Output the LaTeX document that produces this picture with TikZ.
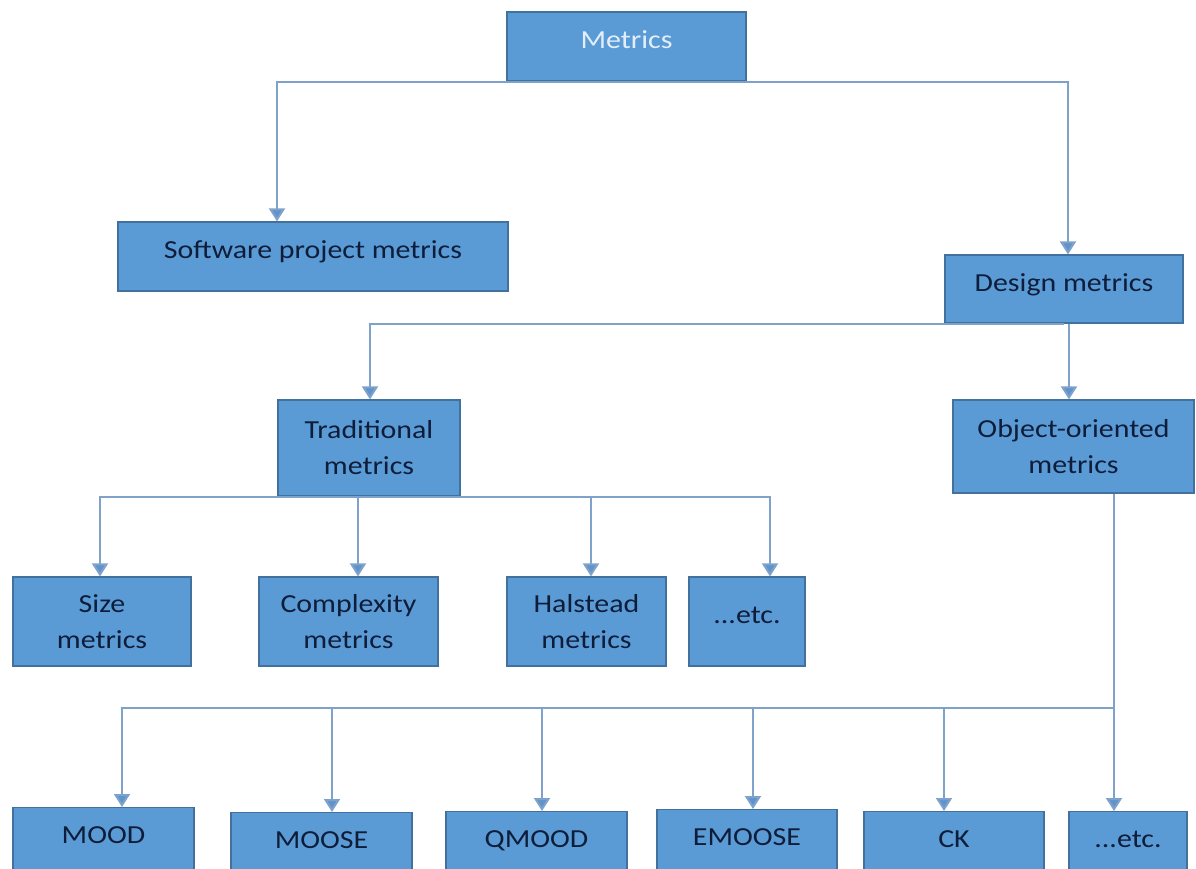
\documentclass[tikz,border=0pt]{standalone}
\usepackage{fontspec}
\setmainfont{Carlito}
\usetikzlibrary{arrows.meta}
\definecolor{boxfill}{HTML}{5B9BD5}
\definecolor{boxedge}{HTML}{41719C}
\definecolor{wire}{HTML}{7FA2CB}
\definecolor{tipfill}{HTML}{5F93CC}
\definecolor{ink}{HTML}{0E1D3A}
\definecolor{lightink}{HTML}{E2EEF9}
% slightly widened lettering
\newcommand{\hs}[1]{\scalebox{1.15}[1]{#1}}
\begin{document}
\begin{tikzpicture}[x=1pt,y=-1pt,
  box/.style={draw=boxedge, fill=boxfill, line width=1.2pt, text=ink,
    font=\fontsize{26}{36}\selectfont, align=center, inner sep=0pt},
  oneline/.style={text height=18pt, text depth=14pt},
  leaf/.style={box, anchor=north, text height=36pt, text depth=44pt},
  conn/.style={draw=wire, line width=2pt,
    -{Triangle[width=16pt,length=13pt,fill=tipfill]}}]
\useasboundingbox (0,0) rectangle (1196,868);

% top levels
\node[box, oneline, text=lightink, minimum width=239pt, minimum height=69pt] (metrics) at (626.5,46.5) {\hs{Metrics}};
\node[box, oneline, minimum width=390pt, minimum height=69pt] (soft) at (313,256.5) {\hs{Software project metrics}};
\node[box, oneline, minimum width=238pt, minimum height=68pt] (design) at (1064,289) {\hs{Design metrics}};
\node[box, minimum width=182pt, minimum height=96pt] (trad) at (369,448) {\hs{Traditional}\\\hs{metrics}};
\node[box, minimum width=241pt, minimum height=93pt] (oo) at (1073.5,446.5) {\hs{Object-oriented}\\\hs{metrics}};

% traditional metrics family
\node[box, minimum width=178pt, minimum height=89pt] (size) at (102,621.5) {\hs{Size}\\\hs{metrics}};
\node[box, minimum width=179pt, minimum height=89pt] (cplx) at (348.5,621.5) {\hs{Complexity}\\\hs{metrics}};
\node[box, minimum width=159pt, minimum height=89pt] (hal) at (586.5,621.5) {\hs{Halstead}\\\hs{metrics}};
\node[box, oneline, minimum width=116pt, minimum height=89pt] (etcA) at (747,621.5) {\hs{...etc.}};

% object-oriented metric suites
\node[leaf, minimum width=181pt] (mood) at (103.5,807) {\hs{MOOD}};
\node[leaf, minimum width=181pt] (moose) at (321.5,812) {\hs{MOOSE}};
\node[leaf, minimum width=181pt] (qmood) at (536.5,811) {\hs{QMOOD}};
\node[leaf, minimum width=180pt] (emoose) at (747,809) {\hs{EMOOSE}};
\node[leaf, minimum width=180pt] (ck) at (954,811) {\hs{CK}};
\node[leaf, minimum width=118pt] (etcB) at (1128,811) {\hs{...etc.}};

% connectors
\draw[conn] (metrics.south) -| ([xshift=-36pt]soft.north);
\draw[conn] (metrics.south) -| ([xshift=4pt]design.north);
\draw[conn] (design.south) -| ([xshift=1pt]trad.north);
\draw[conn] ([xshift=-4.5pt]oo.north |- design.south) -- ([xshift=-4.5pt]oo.north);

\draw[conn] (trad.south) -| ([xshift=-2pt]size.north);
\draw[conn] (trad.south) -| ([xshift=9.5pt]cplx.north);
\draw[conn] (trad.south) -| ([xshift=4.5pt]hal.north);
\draw[conn] (trad.south) -| ([xshift=23pt]etcA.north);

\coordinate (bus) at (1114,708);
\draw[conn] ([xshift=40.5pt]oo.south) -- (bus) -| ([xshift=18.5pt]mood.north);
\draw[conn] (bus) -| ([xshift=10.5pt]moose.north);
\draw[conn] (bus) -| ([xshift=5.5pt]qmood.north);
\draw[conn] (bus) -| ([xshift=6pt]emoose.north);
\draw[conn] (bus) -| ([xshift=-10pt]ck.north);
\draw[conn] (bus) -| ([xshift=-14pt]etcB.north);
\end{tikzpicture}
\end{document}
